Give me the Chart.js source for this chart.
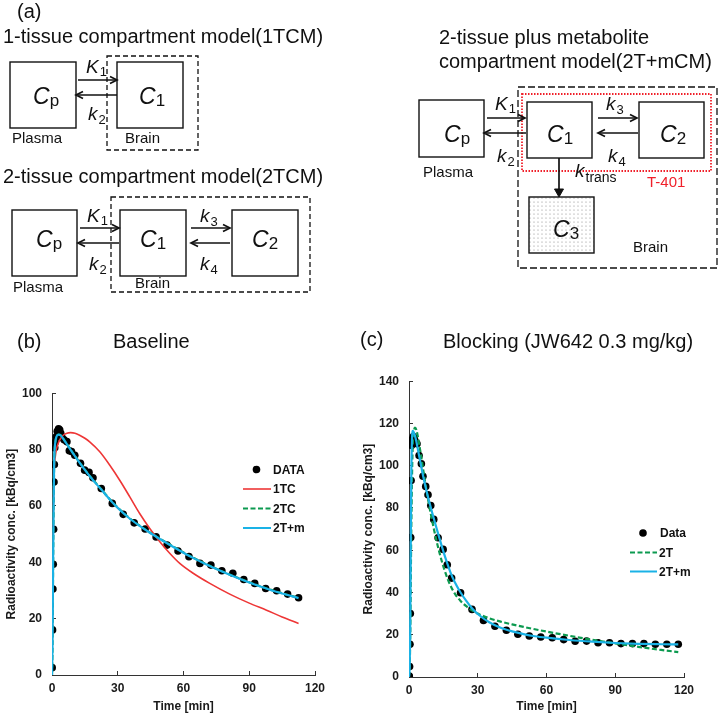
<!DOCTYPE html>
<html>
<head>
<meta charset="utf-8">
<script src="https://cdn.jsdelivr.net/npm/chart.js@4.4.1/dist/chart.umd.min.js"></script>
<style>
  html, body { margin:0; padding:0; background:#fff; }
  #wrap { position:relative; width:720px; height:718px; overflow:hidden; background:#fff; }
  canvas { position:absolute; }
  #ov { position:absolute; left:0; top:0; width:720px; height:718px; pointer-events:none; }
  .t20 { font: 20px 'Liberation Sans', Arial, sans-serif; fill:#111; }
  .ci { font: italic 23px 'Liberation Sans', Arial, sans-serif; fill:#111; }
  .cs { font: normal 17px 'Liberation Sans', Arial, sans-serif; }
  .ki { font: italic 19px 'Liberation Sans', Arial, sans-serif; fill:#111; }
  .ks { font: normal 13px 'Liberation Sans', Arial, sans-serif; }
  .lb { font: 15px 'Liberation Sans', Arial, sans-serif; fill:#111; }
  .lg { font: bold 12px 'Liberation Sans', Arial, sans-serif; fill:#111; }
  .box { fill:#fff; stroke:#111; stroke-width:1.4; }
  .dash { fill:none; stroke:#111; stroke-width:1.3; stroke-dasharray:5 3; }
  .arr { fill:none; stroke:#111; stroke-width:1.7; }
</style>
</head>
<body>
<div id="wrap">
  <canvas id="cb" width="345" height="346" style="left:0px; top:372px; width:345px; height:346px;"></canvas>
  <canvas id="cc" width="360" height="358" style="left:360px; top:360px; width:360px; height:358px;"></canvas>
  <svg id="ov" width="720" height="718" xmlns="http://www.w3.org/2000/svg">
    <defs>
      <pattern id="dots" width="4" height="4" patternUnits="userSpaceOnUse">
        <rect width="4" height="4" fill="#fff"/>
        <circle cx="2" cy="2" r="0.6" fill="#888"/>
      </pattern>
    </defs>
    <!-- (a) -->
    <text x="17" y="18" class="t20">(a)</text>
    <text x="3" y="43" class="t20">1-tissue compartment model(1TCM)</text>
    <!-- 1TCM -->
    <rect x="107" y="56" width="91" height="94" class="dash"/>
    <rect x="10" y="62" width="66" height="66" class="box"/>
    <rect x="117" y="62" width="66" height="66" class="box"/>
    <line x1="78" y1="80" x2="116" y2="80" class="arr"/>
    <polyline points="110,76.5 117,80 110,83.5" class="arr"/>
    <line x1="117" y1="95" x2="78" y2="95" class="arr"/>
    <polyline points="83,91.5 76,95 83,98.5" class="arr"/>
    <text x="86" y="73" class="ki">K<tspan class="ks" dx="1" dy="3">1</tspan></text>
    <text x="88" y="120" class="ki">k<tspan class="ks" dx="1" dy="4">2</tspan></text>
    <text x="33" y="104" class="ci">C<tspan class="cs" dx="0" dy="2">p</tspan></text>
    <text x="139" y="104" class="ci">C<tspan class="cs" dx="0" dy="2">1</tspan></text>
    <text x="12" y="143" class="lb">Plasma</text>
    <text x="125" y="143" class="lb">Brain</text>
    <!-- 2TCM -->
    <text x="3" y="183" class="t20">2-tissue compartment model(2TCM)</text>
    <rect x="111" y="197" width="199" height="95" class="dash"/>
    <rect x="12" y="210" width="65" height="66" class="box"/>
    <rect x="120" y="210" width="66" height="66" class="box"/>
    <rect x="232" y="210" width="66" height="66" class="box"/>
    <line x1="80" y1="228" x2="118" y2="228" class="arr"/>
    <polyline points="112,224.5 119,228 112,231.5" class="arr"/>
    <line x1="119" y1="243" x2="80" y2="243" class="arr"/>
    <polyline points="85,239.5 78,243 85,246.5" class="arr"/>
    <line x1="191" y1="228" x2="229" y2="228" class="arr"/>
    <polyline points="223,224.5 230,228 223,231.5" class="arr"/>
    <line x1="230" y1="243" x2="192" y2="243" class="arr"/>
    <polyline points="198,239.5 191,243 198,246.5" class="arr"/>
    <text x="87" y="222" class="ki">K<tspan class="ks" dx="1" dy="3">1</tspan></text>
    <text x="89" y="270" class="ki">k<tspan class="ks" dx="1" dy="4">2</tspan></text>
    <text x="200" y="222" class="ki">k<tspan class="ks" dx="1" dy="4">3</tspan></text>
    <text x="200" y="270" class="ki">k<tspan class="ks" dx="1" dy="4">4</tspan></text>
    <text x="36" y="247" class="ci">C<tspan class="cs" dx="0" dy="2">p</tspan></text>
    <text x="140" y="247" class="ci">C<tspan class="cs" dx="0" dy="2">1</tspan></text>
    <text x="252" y="247" class="ci">C<tspan class="cs" dx="0" dy="2">2</tspan></text>
    <text x="13" y="292" class="lb">Plasma</text>
    <text x="135" y="288" class="lb">Brain</text>
    <!-- 2T+mCM -->
    <text x="439" y="44" class="t20">2-tissue plus metabolite</text>
    <text x="439" y="68" class="t20">compartment model(2T+mCM)</text>
    <rect x="518" y="87" width="199" height="181" fill="none" stroke="#111" stroke-width="1.3" stroke-dasharray="7 3"/>
    <rect x="522" y="94" width="189" height="77" fill="none" stroke="#f0202a" stroke-width="1.8" stroke-dasharray="1.5 1.5"/>
    <rect x="419" y="100" width="65" height="57" class="box"/>
    <rect x="527" y="102" width="65" height="56" class="box"/>
    <rect x="639" y="102" width="65" height="56" class="box"/>
    <rect x="529" y="197" width="65" height="56" fill="url(#dots)" stroke="#111" stroke-width="1.4"/>
    <line x1="487" y1="118" x2="524" y2="118" class="arr"/>
    <polyline points="518,114.5 525,118 518,121.5" class="arr"/>
    <line x1="526" y1="133" x2="486" y2="133" class="arr"/>
    <polyline points="491,129.5 484,133 491,136.5" class="arr"/>
    <line x1="598" y1="118" x2="636" y2="118" class="arr"/>
    <polyline points="630,114.5 637,118 630,121.5" class="arr"/>
    <line x1="638" y1="133" x2="599" y2="133" class="arr"/>
    <polyline points="605,129.5 598,133 605,136.5" class="arr"/>
    <line x1="559" y1="158" x2="559" y2="190" class="arr"/>
    <polygon points="554.5,189 563.5,189 559,197" fill="#111" stroke="#111" stroke-width="1"/>
    <text x="495" y="110" class="ki">K<tspan class="ks" dx="1" dy="3">1</tspan></text>
    <text x="497" y="162" class="ki">k<tspan class="ks" dx="1" dy="4">2</tspan></text>
    <text x="606" y="110" class="ki">k<tspan class="ks" dx="1" dy="4">3</tspan></text>
    <text x="608" y="162" class="ki">k<tspan class="ks" dx="1" dy="4">4</tspan></text>
    <text x="575" y="177" class="ki">k<tspan class="ks" style="font-size:14px" dx="1" dy="5">trans</tspan></text>
    <text x="444" y="142" class="ci">C<tspan class="cs" dx="0" dy="2">p</tspan></text>
    <text x="547" y="142" class="ci">C<tspan class="cs" dx="0" dy="2">1</tspan></text>
    <text x="660" y="142" class="ci">C<tspan class="cs" dx="0" dy="2">2</tspan></text>
    <text x="553" y="237" class="ci">C<tspan class="cs" dx="0" dy="2">3</tspan></text>
    <text x="423" y="177" class="lb">Plasma</text>
    <text x="647" y="187" class="lb" style="fill:#f0202a">T-401</text>
    <text x="633" y="252" class="lb">Brain</text>
    <!-- panel titles -->
    <text x="17" y="348" class="t20">(b)</text>
    <text x="113" y="348" class="t20">Baseline</text>
    <text x="360" y="346" class="t20">(c)</text>
    <text x="443" y="348" class="t20">Blocking (JW642 0.3 mg/kg)</text>
    <!-- legend b -->
    <circle cx="256.5" cy="469.5" r="3.8" fill="#000"/>
    <text x="273" y="474" class="lg">DATA</text>
    <line x1="243" y1="489" x2="271" y2="489" stroke="#ee3636" stroke-width="1.6"/>
    <text x="273" y="493" class="lg">1TC</text>
    <line x1="243" y1="508.5" x2="271" y2="508.5" stroke="#0c9a50" stroke-width="2" stroke-dasharray="5 2.5"/>
    <text x="273" y="513" class="lg">2TC</text>
    <line x1="243" y1="528" x2="271" y2="528" stroke="#1ab2e6" stroke-width="2"/>
    <text x="273" y="532" class="lg">2T+m</text>
    <!-- legend c -->
    <circle cx="643" cy="533" r="3.8" fill="#000"/>
    <text x="660" y="537" class="lg">Data</text>
    <line x1="630" y1="552.5" x2="657" y2="552.5" stroke="#0c9a50" stroke-width="2" stroke-dasharray="5 2.5"/>
    <text x="659" y="557" class="lg">2T</text>
    <line x1="630" y1="571.5" x2="657" y2="571.5" stroke="#1ab2e6" stroke-width="2"/>
    <text x="659" y="576" class="lg">2T+m</text>
  </svg>
</div>
<script>
// ---------- Baseline (b) ----------
const baselineTime = [0.08,0.25,0.42,0.58,0.75,0.92,1.08,1.25,1.5,1.9,2.4,3.0,3.5,4.0,4.6,5.5,6.8,7.9,8.9,10.4,13.0,14.9,16.9,18.7,22.5,27.5,32.5,37.5,42.5,47.5,52.5,57.5,62.5,67.5,72.5,77.5,82.5,87.5,92.5,97.5,102.5,107.5,112.5];
const baselineData = [2.6,16,30.5,39.3,51.7,68.5,74.7,80.6,82.7,84.5,86.5,87.4,87.0,85.8,84.3,83.5,82.8,79.6,79.3,78.0,75.1,72.7,71.9,70.0,66.2,60.9,57.0,54.0,51.8,49.0,46.1,44.0,42.0,39.6,39.0,37.0,36.1,33.9,32.5,30.7,29.9,28.7,27.4];

const base1TC_t = [0,0.3,0.6,0.8,1,1.5,2,3,4,5,6.5,8.5,10.5,12.6,15,17.2,21.8,26.3,30.9,35.5,40,44.6,49.2,53.7,58.3,64.4,72,81.1,90,97.9,105,112.5];
const base1TC_v = [0,25,55,68,73,77.5,80,82.5,84,85,85.7,86,85.8,85.1,84,82.7,79.2,74.5,69.1,63.2,57.3,52,47.3,43.2,39.6,36.1,32.5,28.7,25.5,23,20.6,18.3];

const base2TC_t = [0,0.25,0.5,0.75,1,1.5,2,3,4,5,6,8,10,12,15,18,20,22.5,25,27.5,30,35,40,45,50,55,60,65,70,75,80,85,90,95,100,105,112.5];
const base2TC_v = [0,11,38,61,75,82.3,84.4,85.3,85.1,84.1,82.9,80.6,78.3,76.1,72.9,69.9,68.1,65.9,63.6,61.4,59.4,55.9,53,50.4,48,45.7,43.5,41.4,39.5,37.7,36,34.4,32.9,31.5,30.2,29,27.4];

const base2Tm_t = [0,0.25,0.5,0.75,1,1.5,2,3,4,5,6,8,10,12,15,18,20,22.5,25,27.5,30,35,40,45,50,55,60,65,70,75,80,85,90,95,100,105,112.5];
const base2Tm_v = [0,12,40,62,76,82.5,84.5,85.3,85,84,82.8,80.5,78.2,76,72.8,69.8,68,65.8,63.5,61.3,59.3,55.8,52.9,50.3,47.9,45.6,43.4,41.3,39.4,37.6,35.9,34.3,32.8,31.4,30.1,28.9,27.3];

// ---------- Blocking (c) ----------
const blockTime = [0.05,0.12,0.25,0.42,0.58,0.75,0.92,1.08,1.25,1.5,1.9,2.4,3.0,3.5,4.4,5.4,6.1,7.3,8.3,9.5,10.8,12.7,14.9,16.7,18.6,22.5,27.5,32.5,37.5,42.5,47.5,52.5,57.5,62.5,67.5,72.5,77.5,82.5,87.5,92.5,97.5,102.5,107.5,112.5,117.5];
const blockData = [0.2,0.5,5,15.5,30,66,93,109.6,110.5,112.5,113.8,112.5,111,110.4,104.8,100.9,95,90.2,86.2,81.2,74.6,65.9,60.4,53.1,46.8,39.9,32.0,26.8,24.0,22.1,20.2,19.4,18.9,18.6,17.7,16.9,17.0,16.2,16.2,15.8,15.8,15.8,15.5,15.5,15.5];

const block2T_t = [0,0.5,1,1.5,2,2.6,3.2,4,5,6,7,8,9,10,12,14,16,18,20,22.5,25,27.5,30,35,40,45,50,60,70,80,90,100,110,117.5];
const block2T_v = [0,15,70,105,115,118,117,113,106.5,99.5,92.5,86,80,74.5,64.5,56,49,43.5,39.5,36,33.5,31.5,30,27.8,26.2,24.9,23.7,21.5,19.5,17.6,15.9,14.3,12.8,11.8];

const block2Tm_t = [0,0.3,0.5,0.75,1,1.3,1.7,2.2,3,4,5,6,7,8,9,10,12,14,16,18,20,22.5,25,27.5,30,35,40,45,50,55,60,70,80,90,100,110,117.5];
const block2Tm_v = [0,5,20,60,95,112,116.5,115.5,112.5,107,101.5,96,91,86.5,82.3,78.2,70.5,63,56,49.8,44.8,40,36,32.5,29.8,25.9,23.3,21.6,20.3,19.3,18.6,17.5,16.7,16.1,15.7,15.5,15.4];

const xTickStep = 30;

function pts(t, v) { return t.map((x, i) => ({x: x, y: v[i]})); }

const FONT = "'Liberation Sans', Arial, sans-serif";
const tickFont = {family: FONT, size: 12, weight: 'bold'};

function lineDS(label, t, v, color, width, dash, order) {
  return {label, data: pts(t, v), showLine: true, borderColor: color, backgroundColor: color,
    borderWidth: width, borderDash: dash, pointRadius: 0, cubicInterpolationMode: 'monotone', order: order};
}
function dotDS(label, t, v) {
  return {label, data: pts(t, v), showLine: false, pointRadius: 3.8, pointBackgroundColor: '#000',
    pointBorderWidth: 0, borderColor: '#000', backgroundColor: '#000', order: 10};
}

function opts(ymax, ystep, yWidth, xHeight, padRight, yTitlePad) {
  return {
    responsive: false, animation: false, devicePixelRatio: 1,
    layout: {padding: {top: 0, right: padRight, left: 0, bottom: 0}},
    plugins: {legend: {display: false}, tooltip: {enabled: false}},
    scales: {
      x: {
        type: 'linear', min: 0, max: 120,
        ticks: {stepSize: xTickStep, font: tickFont, color: '#1a1a1a', padding: 10, maxRotation: 0},
        grid: {display: true, drawOnChartArea: false, tickLength: -4, color: '#333', lineWidth: 1},
        border: {display: true, color: '#333', width: 1},
        title: {display: true, text: 'Time [min]', font: tickFont, color: '#1a1a1a', padding: {top: 4, bottom: 4}},
        afterFit: s => { s.height = xHeight; }
      },
      y: {
        type: 'linear', min: 0, max: ymax,
        ticks: {stepSize: ystep, font: tickFont, color: '#1a1a1a', padding: 14},
        grid: {display: true, drawOnChartArea: false, tickLength: -4, color: '#333', lineWidth: 1},
        border: {display: true, color: '#333', width: 1},
        title: {display: true, text: 'Radioactivity conc. [kBq/cm3]', font: tickFont, color: '#1a1a1a', padding: {top: yTitlePad, bottom: 4}},
        afterFit: s => { s.width = yWidth; }
      }
    }
  };
}

new Chart(document.getElementById('cb'), {
  type: 'scatter',
  data: {datasets: [
    dotDS('DATA', baselineTime, baselineData),
    lineDS('1TC', base1TC_t, base1TC_v, '#ee3636', 1.6, [], 3),
    lineDS('2TC', base2TC_t, base2TC_v, '#0c9a50', 2.2, [5, 2.5], 2),
    lineDS('2T+m', base2Tm_t, base2Tm_v, '#1ab2e6', 2.2, [], 1)
  ]},
  options: opts(100, 20, 52, 43, 30, 4)
});

new Chart(document.getElementById('cc'), {
  type: 'scatter',
  data: {datasets: [
    dotDS('Data', blockTime, blockData),
    lineDS('2T', block2T_t, block2T_v, '#0c9a50', 2.2, [5, 2.5], 2),
    lineDS('2T+m', block2Tm_t, block2Tm_v, '#1ab2e6', 2.2, [], 1)
  ]},
  options: opts(140, 20, 49, 41, 36, 1)
});
</script>
</body>
</html>
